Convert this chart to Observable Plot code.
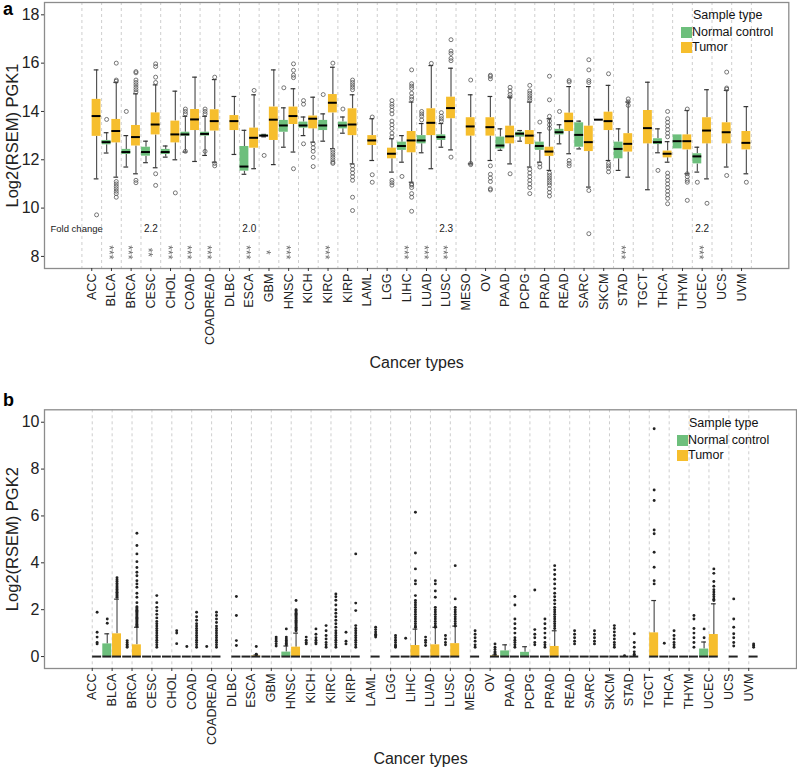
<!DOCTYPE html>
<html><head><meta charset="utf-8">
<script src="https://cdn.jsdelivr.net/npm/d3@7"></script>
<script src="https://cdn.jsdelivr.net/npm/@observablehq/plot@0.6"></script>
<style>
body{margin:0;background:#fff;font-family:"Liberation Sans",Arial,sans-serif;}
#wrap{position:relative;width:797px;height:778px;overflow:hidden;background:#fff}
.panel{position:absolute;left:0}
.plab{position:absolute;font-weight:bold;font-size:18px;line-height:18px;color:#000}
.lg{position:absolute;font-size:12.5px;line-height:14px;color:#111;white-space:nowrap}
.sw{position:absolute;width:11px;height:11px}
</style></head>
<body><div id="wrap"></div>
<script>
// ---------------- data ----------------
const categories = ["ACC","BLCA","BRCA","CESC","CHOL","COAD","COADREAD","DLBC","ESCA","GBM","HNSC","KICH","KIRC","KIRP","LAML","LGG","LIHC","LUAD","LUSC","MESO","OV","PAAD","PCPG","PRAD","READ","SARC","SKCM","STAD","TGCT","THCA","THYM","UCEC","UCS","UVM"];
const sampleTypes = ["Normal control","Tumor"];
const typeColors = ["#6dbf7c","#f6be2d"];

// PGK1: [category, lower whisker, Q1, median, Q3, upper whisker]
const pgk1Normal = [
 ["BLCA",12.28,12.62,12.73,12.80,13.12],["BRCA",11.70,12.22,12.32,12.43,13.00],["CESC",11.88,12.15,12.32,12.52,12.77],
 ["CHOL",12.11,12.22,12.32,12.43,12.57],["COAD",12.32,12.98,13.05,13.14,13.80],["COADREAD",12.18,12.98,13.07,13.14,13.80],
 ["ESCA",11.40,11.53,11.72,12.55,13.22],["GBM",12.95,12.98,13.00,13.02,13.05],["HNSC",12.52,13.14,13.42,13.63,14.15],
 ["KICH",13.00,13.31,13.42,13.56,13.77],["KIRC",12.77,13.21,13.42,13.63,13.90],["KIRP",13.10,13.28,13.42,13.56,13.77],
 ["LIHC",11.90,12.39,12.57,12.73,13.00],["LUAD",12.29,12.66,12.80,13.00,13.50],["LUSC",12.52,12.80,12.94,13.03,13.50],
 ["PAAD",12.39,12.45,12.59,12.94,13.28],["PCPG",12.77,12.94,13.08,13.14,13.21],["PRAD",11.90,12.39,12.57,12.73,13.12],
 ["READ",12.66,13.03,13.14,13.26,13.45],["SARC",12.45,12.52,13.03,13.53,13.60],["SKCM",13.66,13.66,13.66,13.66,13.66],
 ["STAD",11.56,12.04,12.45,12.73,13.28],["THCA",12.29,12.63,12.73,12.87,13.28],["THYM",12.45,12.45,12.77,13.03,13.03],
 ["UCEC",11.49,11.83,12.14,12.25,12.52]
];
const pgk1Tumor = [
 ["ACC",11.21,12.97,13.81,14.50,15.72],["BLCA",11.28,12.70,13.19,13.67,15.20],["BRCA",11.42,12.57,12.94,13.42,14.73],
 ["CESC",11.67,13.03,13.46,13.94,15.10],["CHOL",12.00,12.70,13.05,13.60,14.84],["COAD",11.93,13.21,13.67,14.08,15.42],
 ["COADREAD",11.90,13.19,13.60,14.07,15.32],["DLBC",12.22,13.21,13.60,13.83,14.62],["ESCA",11.63,12.48,12.91,13.31,14.69],
 ["GBM",11.80,12.80,13.66,14.18,15.72],["HNSC",12.32,13.46,13.81,14.18,14.94],["KICH",12.73,13.28,13.70,13.81,14.59],
 ["KIRC",12.46,13.94,14.36,14.70,15.83],["KIRP",11.83,13.00,13.46,14.11,14.69],["LAML",11.97,12.59,12.80,13.00,13.70],
 ["LGG",11.49,12.04,12.25,12.48,12.87],["LIHC",11.07,12.29,12.80,13.17,14.39],["LUAD",11.63,13.00,13.53,14.11,15.90],
 ["LUSC",12.41,13.70,14.14,14.59,15.79],["MESO",11.83,12.98,13.38,13.74,14.69],["OV",11.97,12.98,13.35,13.74,14.62],
 ["PAAD",11.83,12.66,12.97,13.39,14.59],["PCPG",11.70,12.63,13.00,13.21,14.39],["PRAD",11.56,12.14,12.34,12.52,13.70],
 ["READ",12.25,13.17,13.60,13.93,15.03],["SARC",10.87,12.34,12.73,13.39,15.03],["SKCM",11.97,13.21,13.60,13.97,15.08],
 ["STAD",11.28,12.32,12.66,13.08,14.39],["TGCT",10.76,12.66,13.31,14.04,15.21],["THCA",11.90,12.08,12.25,12.36,12.75],
 ["THYM",11.42,12.41,12.77,13.03,14.04],["UCEC",11.21,12.66,13.21,13.74,14.90],["UCS",11.70,12.66,13.14,13.53,14.87],
 ["UVM",11.42,12.41,12.70,13.17,14.20]
];
// PGK1 outliers: [category, N/T, value]
const pgk1Outliers = [
 ["ACC","T",9.72],["BLCA","N",13.67],
 ["BLCA","T",16.0],["BLCA","T",15.3],["BLCA","T",15.25],["BLCA","T",11.1],["BLCA","T",11.0],["BLCA","T",10.9],["BLCA","T",10.8],["BLCA","T",10.7],["BLCA","T",10.6],["BLCA","T",10.45],
 ["BRCA","N",14.0],
 ["BRCA","T",15.65],["BRCA","T",15.6],["BRCA","T",15.3],["BRCA","T",15.2],["BRCA","T",15.1],["BRCA","T",15.0],["BRCA","T",14.9],["BRCA","T",14.8],["BRCA","T",11.15],["BRCA","T",11.05],
 ["CESC","T",15.97],["CESC","T",15.86],["CESC","T",15.42],["CESC","T",15.2],["CESC","T",11.42],["CESC","T",10.94],
 ["CHOL","T",10.63],
 ["COAD","N",14.1],["COAD","N",14.0],["COAD","N",13.9],["COAD","N",12.35],
 ["COADREAD","N",14.1],["COADREAD","N",14.0],["COADREAD","N",13.9],["COADREAD","N",12.35],
 ["COADREAD","T",15.42],["COADREAD","T",11.85],["COADREAD","T",11.75],
 ["ESCA","T",14.87],["GBM","N",12.18],["HNSC","N",14.98],
 ["HNSC","T",15.97],["HNSC","T",15.7],["HNSC","T",15.5],["HNSC","T",15.4],["HNSC","T",11.63],
 ["KICH","N",14.45],["KICH","N",14.3],["KICH","N",12.66],
 ["KICH","T",12.66],["KICH","T",12.5],["KICH","T",12.35],["KICH","T",12.1],["KICH","T",11.72],
 ["KIRC","N",14.7],
 ["KIRC","T",16.0],["KIRC","T",12.4],["KIRC","T",12.3],["KIRC","T",12.2],["KIRC","T",12.1],["KIRC","T",12.0],["KIRC","T",11.9],["KIRC","T",11.85],
 ["KIRP","N",14.1],
 ["KIRP","T",15.3],["KIRP","T",15.2],["KIRP","T",15.1],["KIRP","T",15.0],["KIRP","T",14.9],["KIRP","T",11.75],["KIRP","T",11.6],["KIRP","T",11.45],["KIRP","T",11.3],["KIRP","T",11.15],["KIRP","T",10.45],["KIRP","T",9.9],
 ["LAML","T",13.77],["LAML","T",11.38],["LAML","T",11.07],
 ["LGG","T",14.45],["LGG","T",14.3],["LGG","T",14.2],["LGG","T",14.05],["LGG","T",13.9],["LGG","T",13.6],["LGG","T",13.45],["LGG","T",13.3],["LGG","T",13.1],["LGG","T",12.95],["LGG","T",11.15],["LGG","T",11.05],["LGG","T",10.95],
 ["LIHC","N",11.31],
 ["LIHC","T",15.72],["LIHC","T",15.15],["LIHC","T",15.05],["LIHC","T",14.95],["LIHC","T",14.75],["LIHC","T",14.6],["LIHC","T",14.5],["LIHC","T",11.0],["LIHC","T",10.95],["LIHC","T",10.85],["LIHC","T",10.6],["LIHC","T",10.45],["LIHC","T",9.87],
 ["LUAD","N",14.0],["LUAD","N",13.9],["LUAD","N",13.8],["LUAD","N",13.65],["LUAD","T",15.99],
 ["LUSC","N",13.95],["LUSC","N",13.8],["LUSC","N",13.7],["LUSC","N",13.6],
 ["LUSC","T",16.97],["LUSC","T",16.5],["LUSC","T",16.4],["LUSC","T",16.2],["LUSC","T",16.1],["LUSC","T",12.11],
 ["MESO","T",15.3],["MESO","T",11.85],["MESO","T",11.8],
 ["OV","T",15.5],["OV","T",15.45],["OV","T",15.35],["OV","T",11.75],["OV","T",11.4],["OV","T",11.25],["OV","T",11.1],["OV","T",10.8],["OV","T",10.75],
 ["PAAD","T",15.0],["PAAD","T",14.85],["PAAD","T",14.7],["PAAD","T",14.6],["PAAD","T",11.42],
 ["PCPG","T",15.08],["PCPG","T",14.85],["PCPG","T",14.75],["PCPG","T",14.65],["PCPG","T",14.55],["PCPG","T",14.45],["PCPG","T",11.6],["PCPG","T",11.45],["PCPG","T",11.3],["PCPG","T",11.15],["PCPG","T",11.0],["PCPG","T",10.85],["PCPG","T",10.6],
 ["PRAD","N",13.56],["PRAD","N",11.83],["PRAD","N",11.7],
 ["PRAD","T",15.46],["PRAD","T",14.48],["PRAD","T",13.8],["PRAD","T",13.6],["PRAD","T",13.45],["PRAD","T",13.3],["PRAD","T",11.45],["PRAD","T",11.35],["PRAD","T",11.25],["PRAD","T",11.15],["PRAD","T",11.05],["PRAD","T",10.95],["PRAD","T",10.8],["PRAD","T",10.65],["PRAD","T",10.5],
 ["READ","N",14.0],["READ","T",15.28],["READ","T",15.22],["READ","T",11.97],["READ","T",11.85],["READ","T",11.75],
 ["SARC","T",16.14],["SARC","T",15.72],["SARC","T",15.28],["SARC","T",15.2],["SARC","T",10.73],["SARC","T",8.94],
 ["SKCM","T",15.56],["SKCM","T",11.85],["SKCM","T",11.75],["SKCM","T",11.65],["SKCM","T",11.5],
 ["STAD","T",14.52],["STAD","T",14.4],["STAD","T",14.25],
 ["THCA","N",11.56],
 ["THCA","T",14.0],["THCA","T",13.7],["THCA","T",13.55],["THCA","T",13.4],["THCA","T",13.25],["THCA","T",13.1],["THCA","T",12.95],["THCA","T",11.45],["THCA","T",11.3],["THCA","T",11.15],["THCA","T",11.0],["THCA","T",10.85],["THCA","T",10.7],["THCA","T",10.55],["THCA","T",10.4],["THCA","T",10.18],
 ["THYM","T",14.1],["THYM","T",11.42],["THYM","T",11.3],["THYM","T",11.15],["THYM","T",11.07],["THYM","T",10.32],
 ["UCEC","N",11.07],["UCEC","T",10.2],
 ["UCS","T",15.63],["UCS","T",14.97],["UCS","T",14.92],["UCS","T",11.35],["UVM","T",11.07]
];
const foldChanges = [["CESC","2.2"],["ESCA","2.0"],["LUSC","2.3"],["UCEC","2.2"]];
const significance = [["BLCA","***"],["BRCA","***"],["CESC","**"],["CHOL","***"],["COAD","***"],["COADREAD","***"],["ESCA","***"],["GBM","*"],["HNSC","***"],["KIRC","***"],["LIHC","***"],["LUAD","***"],["LUSC","***"],["STAD","***"],["UCEC","***"]];

// PGK2
const pgk2Normal = [
 ["BLCA",0,0,0,0.54,0.97],["BRCA",0,0,0,0,0],["CESC",0,0,0,0,0],["CHOL",0,0,0,0,0],["COAD",0,0,0,0,0],["COADREAD",0,0,0,0,0],
 ["ESCA",0,0,0,0,0],["GBM",0,0,0,0,0],["HNSC",0,0,0,0.19,0.45],["KICH",0,0,0,0,0],["KIRC",0,0,0,0,0],["KIRP",0,0,0,0,0],
 ["LIHC",0,0,0,0,0],["LUAD",0,0,0,0,0],["LUSC",0,0,0,0,0],["PAAD",0,0,0,0.24,0.5],["PCPG",0,0,0,0.18,0.42],["PRAD",0,0,0,0,0],
 ["READ",0,0,0,0,0],["SARC",0,0,0,0,0],["SKCM",0,0,0,0,0],["STAD",0,0,0,0,0],["THCA",0,0,0,0,0],["THYM",0,0,0,0,0],
 ["UCEC",0,0,0,0.32,0.62]
];
const pgk2Tumor = [
 ["ACC",0,0,0,0,0],["BLCA",0,0,0,0.97,2.45],["BRCA",0,0,0,0.5,1.25],["CESC",0,0,0,0,0],["CHOL",0,0,0,0,0],["COAD",0,0,0,0,0],
 ["COADREAD",0,0,0,0,0],["DLBC",0,0,0,0,0],["ESCA",0,0,0,0.02,0.06],["GBM",0,0,0,0,0],["HNSC",0,0,0,0.4,1.0],["KICH",0,0,0,0,0],
 ["KIRC",0,0,0,0,0],["KIRP",0,0,0,0,0],["LAML",0,0,0,0,0],["LGG",0,0,0,0,0],["LIHC",0,0,0,0.47,1.17],["LUAD",0,0,0,0.5,1.25],
 ["LUSC",0,0,0,0.55,1.3],["MESO",0,0,0,0,0],["OV",0,0,0,0.02,0.06],["PAAD",0,0,0,0,0],["PCPG",0,0,0,0,0],["PRAD",0,0,0,0.43,1.1],
 ["READ",0,0,0,0,0],["SARC",0,0,0,0,0],["SKCM",0,0,0,0,0],["STAD",0,0,0,0,0],["TGCT",0,0,0,1.01,2.39],["THCA",0,0,0,0,0],
 ["THYM",0,0,0,0,0],["UCEC",0,0,0,0.94,2.25],["UCS",0,0,0,0,0],["UVM",0,0,0,0,0]
];
// PGK2 outliers: [category, N/T, values...]
const pgk2Outliers = [
 ["ACC","T",1.89,1.04,0.83,0.6,0.54],
 ["BLCA","N",1.6,1.42],
 ["BLCA","T",2.53,2.58,2.63,2.68,2.74,2.8,2.86,2.92,2.98,3.05,3.12,3.2,3.28,3.36],
 ["BRCA","N",0.68,0.6,0.52,0.45,0.4],
 ["BRCA","T",1.28,1.33,1.38,1.43,1.48,1.53,1.58,1.63,1.68,1.73,1.78,1.83,1.88,1.93,1.98,2.03,2.08,2.13,2.3,2.53,2.7,2.96,3.1,3.24,3.45,3.6,3.8,4.05,4.38,4.74,5.26],
 ["CESC","T",2.6,2.3,2.1,1.95,1.8,1.65,1.5,1.4,1.3,1.2,1.1,1.0,0.9,0.8,0.7,0.6,0.5,0.4],
 ["CHOL","T",1.1,1.0,0.55],
 ["COAD","N",0.43],
 ["COAD","T",1.89,1.7,1.55,1.4,1.3,1.2,1.1,1.0,0.9,0.8,0.7,0.6,0.5,0.4],
 ["COADREAD","N",0.43],
 ["COADREAD","T",1.89,1.75,1.6,1.45,1.3,1.2,1.1,1.0,0.9,0.8,0.7,0.6,0.5,0.4],
 ["DLBC","T",2.56,1.75,0.68,0.47],
 ["ESCA","T",0.43,0.1,0.08],
 ["GBM","T",0.83,0.75,0.65,0.55,0.45],
 ["HNSC","N",1.18,0.83,0.75,0.68,0.62,0.56,0.5],
 ["HNSC","T",2.39,2.0,1.96,1.9,1.85,1.8,1.75,1.7,1.65,1.6,1.55,1.5,1.45,1.4,1.35,1.3,1.25,1.2,1.15,1.1],
 ["KICH","N",0.83,0.7,0.6,0.54],
 ["KICH","T",1.18,0.95,0.8,0.7,0.6,0.54],
 ["KIRC","N",1.32,1.1,0.9,0.75,0.6,0.5,0.4],
 ["KIRC","T",2.67,2.55,2.4,2.2,2.0,1.85,1.7,1.55,1.4,1.25,1.1,1.0,0.9,0.8,0.7,0.6,0.5,0.4],
 ["KIRP","N",1.04,0.65,0.54],
 ["KIRP","T",4.38,2.28,1.96,1.32,1.2,1.1,1.0,0.9,0.8,0.7,0.6,0.5,0.4],
 ["LAML","T",1.25,1.15,1.05,0.95,0.9,0.83],
 ["LGG","T",0.9,0.8,0.7,0.6,0.5,0.45,0.4],
 ["LIHC","N",0.78],
 ["LIHC","T",6.16,4.42,3.74,3.24,3.1,2.6,2.39,2.3,2.2,2.1,2.0,1.9,1.8,1.7,1.6,1.5,1.4,1.3,1.25],
 ["LUAD","N",0.83,0.7,0.6,0.47],
 ["LUAD","T",3.24,3.1,2.8,2.53,2.1,2.0,1.9,1.8,1.7,1.6,1.5,1.4,1.3,1.25],
 ["LUSC","N",0.9,0.75,0.6,0.5],
 ["LUSC","T",3.88,2.46,2.1,2.0,1.9,1.8,1.7,1.6,1.5,1.4,1.3],
 ["MESO","T",1.1,0.95,0.8,0.65,0.5,0.4],
 ["OV","T",0.54,0.4,0.3,0.2,0.15,0.1],
 ["PAAD","T",2.56,2.2,1.6,1.4,1.2,1.0,0.8,0.7,0.6,0.5,0.4],
 ["PCPG","T",2.84,1.15,0.95,0.8,0.6,0.5],
 ["PRAD","N",1.6,1.4,1.2,1.0,0.8,0.6,0.5,0.4],
 ["PRAD","T",3.88,3.7,3.5,3.3,3.1,2.9,2.7,2.55,2.4,2.25,2.1,2.0,1.9,1.8,1.7,1.6,1.5,1.4,1.3,1.2],
 ["READ","T",1.1,0.95,0.8,0.65,0.54],
 ["SARC","T",1.1,0.95,0.8,0.65,0.54],
 ["SKCM","T",1.32,1.2,1.05,0.9,0.75,0.6,0.5,0.4],
 ["STAD","N",0.04],
 ["STAD","T",0.97,0.6,0.4,0.2,0.1,0.04],
 ["TGCT","T",9.72,7.11,6.66,5.4,5.24,4.45,3.81,3.24,3.1],
 ["THCA","N",0.57],
 ["THCA","T",1.1,0.9,0.75,0.6,0.5,0.4],
 ["THYM","T",1.75,1.6,1.2,1.0,0.8,0.6,0.4],
 ["UCEC","N",1.18,0.8],
 ["UCEC","T",3.74,3.55,3.2,3.0,2.85,2.75,2.65,2.55,2.45,2.39],
 ["UCS","T",2.46,1.6,1.25,0.97,0.8,0.6,0.45],
 ["UVM","T",0.54,0.47,0.4]
];

// ---------------- drawing ----------------
const FONT = "Liberation Sans, Arial, sans-serif";
const STAR_GRAY = "#6a6a6b";
const idx = c => categories.indexOf(c);

function boxRows(rows, type) {
  return rows.map(r => {
    const i = idx(r[0]);
    const x1 = type === "Normal control" ? i - 0.47 : i + 0.02;
    const x2 = type === "Normal control" ? i - 0.02 : i + 0.47;
    return {cat: r[0], type, x1, x2, c: (x1 + x2) / 2, lo: r[1], q1: r[2], med: r[3], q3: r[4], hi: r[5]};
  });
}

function panel(o) {
  const boxes = [...boxRows(o.normal, "Normal control"), ...boxRows(o.tumor, "Tumor")];
  const outs = o.outliers.map(d => ({x: idx(d[0]) + (d[1] === "N" ? -0.245 : 0.245), v: d[2]}));
  const grid = o.gridAtBoundaries ? d3.range(categories.length + 1).map(i => i - 0.5) : d3.range(categories.length);
  const caps = boxes.filter(d => d.hi > d.q3);
  const lowCaps = boxes.filter(d => d.lo < d.q1);
  return Plot.plot({
    width: 797, height: o.height,
    marginTop: o.marginTop, marginBottom: o.marginBottom, marginLeft: 44, marginRight: o.marginRight,
    style: {fontFamily: FONT, background: "transparent", color: "#222"},
    x: {type: "linear", domain: [-2.4, 35.4], axis: null},
    y: {domain: o.yDomain, axis: null},
    color: {domain: sampleTypes, range: typeColors},
    marks: [
      Plot.ruleX(grid, {x: d => d, stroke: "#c8c8c8", strokeDasharray: "3,3", strokeWidth: 0.9}),
      Plot.ruleX(boxes, {x: "c", y1: "q3", y2: "hi", stroke: "#555", strokeWidth: 1.2}),
      Plot.ruleX(boxes, {x: "c", y1: "lo", y2: "q1", stroke: "#555", strokeWidth: 1.2}),
      Plot.ruleY(caps, {y: "hi", x1: d => d.c - 0.12, x2: d => d.c + 0.12, stroke: "#333", strokeWidth: 1.2}),
      Plot.ruleY(lowCaps, {y: "lo", x1: d => d.c - 0.12, x2: d => d.c + 0.12, stroke: "#333", strokeWidth: 1.2}),
      Plot.rect(boxes, {x1: "x1", x2: "x2", y1: "q1", y2: "q3", fill: "type"}),
      Plot.ruleY(boxes, {y: "med", x1: "x1", x2: "x2", stroke: o.medianColor, strokeWidth: 2}),
      o.openDots
        ? Plot.dot(outs, {x: "x", y: "v", r: 2, stroke: "#555", strokeWidth: 0.8, fill: "none"})
        : Plot.dot(outs, {x: "x", y: "v", r: 1.45, fill: "#222", stroke: "none"}),
      ...(o.extra || []),
      Plot.frame({stroke: "#8c8c8c", strokeWidth: 1.3}),
      Plot.axisY(o.yTicks, {tickSize: 3, tickPadding: 2, fontSize: 16, label: null, stroke: "#333"}),
      Plot.axisX(d3.range(categories.length), {tickFormat: i => categories[i], tickRotate: -90, tickSize: 3, tickPadding: 2, fontSize: 12.6, label: null, stroke: "#333"}),
      Plot.text([o.yLabel], {frameAnchor: "left", textAnchor: "middle", dx: -32, rotate: -90, fontSize: 16.5, fill: "#222"}),
      Plot.text(["Cancer types"], {frameAnchor: "bottom", textAnchor: "middle", dy: o.xLabelDy, fontSize: 16, fill: "#222"})
    ]
  });
}

const sigMarks = [
  Plot.text(["Fold change"], {frameAnchor: "left", dx: 6, y: () => 9.15, textAnchor: "start", fontSize: 9.5, fill: "#222"}),
  Plot.text(foldChanges, {x: d => idx(d[0]), y: () => 9.15, text: d => d[1], fontSize: 10, fill: "#222"}),
  Plot.text(significance, {x: d => idx(d[0]), y: () => 8.17, text: d => d[1], rotate: 90, fontSize: 12, dx: -3, fill: STAR_GRAY})
];

const flatOut = rows => rows.flatMap(r => r.slice(2).map(v => [r[0], r[1], v]));

const wrap = document.getElementById("wrap");
const a = panel({
  normal: pgk1Normal, tumor: pgk1Tumor, outliers: pgk1Outliers,
  yDomain: [7.5, 18.51], yTicks: [8, 10, 12, 14, 16, 18], yLabel: "Log2(RSEM) PGK1",
  height: 385, marginTop: 2, marginBottom: 117, marginRight: 8.7, xLabelDy: 99,
  gridAtBoundaries: true, openDots: true, medianColor: "#000", extra: sigMarks
});
a.classList.add("panel"); a.style.top = "0px";
wrap.appendChild(a);

// render the rotated significance stars in neutral grey (no colour fringes)
(function () {
  const ns = "http://www.w3.org/2000/svg";
  const defs = document.createElementNS(ns, "defs");
  const f = document.createElementNS(ns, "filter");
  f.setAttribute("id", "greyText");
  const m = document.createElementNS(ns, "feColorMatrix");
  m.setAttribute("type", "saturate"); m.setAttribute("values", "0");
  f.appendChild(m); defs.appendChild(f); a.insertBefore(defs, a.firstChild);
  a.querySelectorAll('[fill="' + STAR_GRAY + '"]').forEach(el => el.setAttribute("filter", "url(#greyText)"));
})();

const b = panel({
  normal: pgk2Normal, tumor: pgk2Tumor, outliers: flatOut(pgk2Outliers),
  yDomain: [-0.51, 10.53], yTicks: [0, 2, 4, 6, 8, 10], yLabel: "Log2(RSEM) PGK2",
  height: 393, marginTop: 24.3, marginBottom: 110, marginRight: 1, xLabelDy: 95,
  gridAtBoundaries: false, openDots: false, medianColor: "#222"
});
b.classList.add("panel"); b.style.top = "385px";
wrap.appendChild(b);

// panel labels and legends (HTML overlay)
function addDiv(cls, text, left, top, extra) {
  const d = document.createElement("div");
  d.className = cls; d.textContent = text || "";
  d.style.left = left + "px"; d.style.top = top + "px";
  if (extra) Object.assign(d.style, extra);
  wrap.appendChild(d);
}
addDiv("plab", "a", 3, 0);
addDiv("plab", "b", 3, 391);
function legend(x, y) {
  addDiv("lg", "Sample type", x + 12, y);
  addDiv("sw", "", x, y + 19, {background: typeColors[0]});
  addDiv("lg", sampleTypes[0], x + 11, y + 17);
  addDiv("sw", "", x, y + 34, {background: typeColors[1]});
  addDiv("lg", sampleTypes[1], x + 11, y + 32);
}
legend(681, 7.5);
legend(677, 416);
</script>
</body></html>
